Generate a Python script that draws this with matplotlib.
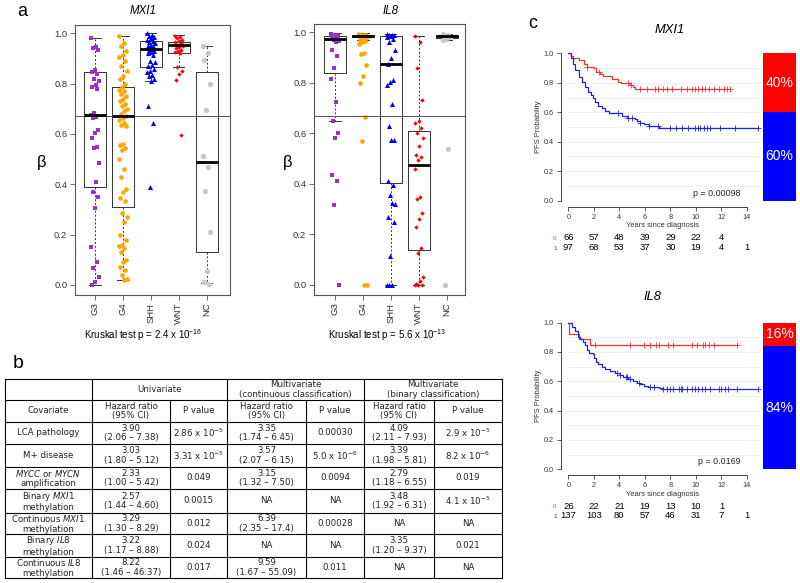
import numpy as np
import matplotlib
matplotlib.use("Agg")
import matplotlib.pyplot as plt
from matplotlib.transforms import blended_transform_factory

plt.rcParams['font.family'] = ['Liberation Sans', 'DejaVu Sans']
plt.rcParams['mathtext.fontset'] = 'custom'
plt.rcParams['mathtext.rm'] = 'Liberation Sans'
plt.rcParams['mathtext.it'] = 'Liberation Sans:italic'
plt.rcParams['mathtext.bf'] = 'Liberation Sans:bold'

# ---------------- data: panel a (beta values per group) ----------------
groups = ["G3", "G4", "SHH", "WNT", "NC"]

mxi1_g3 = [0.98, 0.947, 0.94, 0.935, 0.854, 0.848, 0.84, 0.82, 0.81, 0.795, 0.785, 0.78,
           0.682, 0.675, 0.669, 0.662, 0.616, 0.603, 0.583, 0.55, 0.543, 0.483, 0.41, 0.37,
           0.35, 0.305, 0.152, 0.093, 0.066, 0.033, 0.013, 0.0]
mxi1_g4 = [0.99, 0.96, 0.95, 0.93, 0.915, 0.905, 0.89, 0.87, 0.85, 0.83, 0.82, 0.80, 0.785,
           0.775, 0.77, 0.76, 0.75, 0.74, 0.73, 0.72, 0.71, 0.70, 0.69, 0.68, 0.672, 0.665,
           0.655, 0.645, 0.635, 0.63, 0.56, 0.555, 0.545, 0.535, 0.50, 0.46, 0.43, 0.38,
           0.37, 0.345, 0.335, 0.285, 0.27, 0.25, 0.20, 0.18, 0.16, 0.155, 0.145, 0.13,
           0.10, 0.09, 0.07, 0.06, 0.04, 0.025, 0.02]
mxi1_shh = [1.0, 0.995, 0.99, 0.985, 0.98, 0.975, 0.97, 0.965, 0.96, 0.955, 0.95, 0.948,
            0.945, 0.94, 0.938, 0.935, 0.93, 0.925, 0.92, 0.915, 0.89, 0.885, 0.875, 0.87,
            0.86, 0.85, 0.845, 0.835, 0.83, 0.82, 0.81, 0.71, 0.645, 0.39]
mxi1_wnt = [0.99, 0.985, 0.98, 0.975, 0.97, 0.965, 0.96, 0.955, 0.95, 0.945, 0.94, 0.935,
            0.93, 0.925, 0.92, 0.865, 0.85, 0.837, 0.815, 0.595]
mxi1_nc = [0.95, 0.922, 0.895, 0.797, 0.695, 0.513, 0.47, 0.375, 0.21, 0.055, 0.01, 0.005]

il8_g3 = [0.995, 0.99, 0.99, 0.985, 0.98, 0.98, 0.975, 0.97, 0.965, 0.96, 0.93, 0.908,
          0.858, 0.815, 0.726, 0.649, 0.60, 0.58, 0.435, 0.41, 0.317, 0.0]
il8_g4 = [0.995, 0.99, 0.99, 0.988, 0.985, 0.985, 0.982, 0.98, 0.98, 0.975, 0.97, 0.965,
          0.96, 0.955, 0.92, 0.913, 0.871, 0.827, 0.80, 0.666, 0.57, 0.0, 0.0]
il8_shh = [0.995, 0.99, 0.99, 0.988, 0.985, 0.98, 0.975, 0.96, 0.93, 0.90, 0.875, 0.81,
           0.805, 0.79, 0.715, 0.63, 0.575, 0.575, 0.41, 0.395, 0.355, 0.32, 0.325, 0.27,
           0.25, 0.115, 0.0, 0.0, 0.0]
il8_wnt = [0.985, 0.96, 0.86, 0.732, 0.65, 0.64, 0.62, 0.60, 0.58, 0.55, 0.515, 0.505,
           0.495, 0.46, 0.35, 0.34, 0.285, 0.26, 0.23, 0.147, 0.125, 0.03, 0.015, 0.005,
           0.0, 0.0, 0.0]
il8_nc = [0.995, 0.99, 0.985, 0.98, 0.975, 0.97, 0.54, 0.0]

# box statistics (whisker low, q1, median, q3, whisker high)
mxi1_lo = [0.0, 0.02, 0.81, 0.865, 0.007]
mxi1_q1 = [0.391, 0.309, 0.865, 0.92, 0.13]
mxi1_med = [0.675, 0.672, 0.936, 0.954, 0.49]
mxi1_q3 = [0.845, 0.788, 0.971, 0.967, 0.845]
mxi1_hi = [0.98, 0.99, 1.0, 0.993, 0.95]

il8_lo = [0.649, 0.97, 0.0, 0.0, 0.97]
il8_q1 = [0.838, 0.98, 0.402, 0.139, 0.978]
il8_med = [0.974, 0.985, 0.873, 0.475, 0.985]
il8_q3 = [0.987, 0.99, 0.987, 0.611, 0.99]
il8_hi = [0.996, 0.998, 0.995, 0.985, 0.995]

beta_cut = 0.67
kruskal_mxi1 = r"Kruskal test p = 2.4 x 10$^{-16}$"
kruskal_il8 = r"Kruskal test p = 5.6 x 10$^{-13}$"

# ---------------- data: panel b (Cox table) ----------------
covariates = ["LCA pathology", "M+ disease",
              "$\\mathit{MYCC}$ or $\\mathit{MYCN}$\namplification",
              "Binary $\\mathit{MXI1}$\nmethylation",
              "Continuous $\\mathit{MXI1}$\nmethylation",
              "Binary $\\mathit{IL8}$\nmethylation",
              "Continuous $\\mathit{IL8}$\nmethylation"]
uni_hr = ["3.90\n(2.06 \u2013 7.38)", "3.03\n(1.80 \u2013 5.12)", "2.33\n(1.00 \u2013 5.42)",
          "2.57\n(1.44 \u2013 4.60)", "3.29\n(1.30 \u2013 8.29)", "3.22\n(1.17 \u2013 8.88)",
          "8.22\n(1.46 \u2013 46.37)"]
uni_p = ["2.86 x 10$^{-5}$", "3.31 x 10$^{-5}$", "0.049", "0.0015", "0.012", "0.024", "0.017"]
cont_hr = ["3.35\n(1.74 \u2013 6.45)", "3.57\n(2.07 \u2013 6.15)", "3.15\n(1.32 \u2013 7.50)", "NA",
           "6.39\n(2.35 \u2013 17.4)", "NA", "9.59\n(1.67 \u2013 55.09)"]
cont_p = ["0.00030", "5.0 x 10$^{-6}$", "0.0094", "NA", "0.00028", "NA", "0.011"]
bin_hr = ["4.09\n(2.11 \u2013 7.93)", "3.39\n(1.98 \u2013 5.81)", "2.79\n(1.18 \u2013 6.55)",
          "3.48\n(1.92 \u2013 6.31)", "NA", "3.35\n(1.20 \u2013 9.37)", "NA"]
bin_p = ["2.9 x 10$^{-5}$", "8.2 x 10$^{-6}$", "0.019", "4.1 x 10$^{-5}$", "NA", "0.021", "NA"]
head_top = ["Univariate", "Multivariate\n(continuous classification)",
            "Multivariate\n(binary classification)"]
head_sub = ["Covariate", "Hazard ratio\n(95% CI)", "P value", "Hazard ratio\n(95% CI)",
            "P value", "Hazard ratio\n(95% CI)", "P value"]

# ---------------- data: panel c (Kaplan-Meier) ----------------
mxi1_t0 = [0, 0.2, 0.4, 0.8, 1.2, 1.45, 2.0, 2.2, 2.5, 2.75, 3.4, 3.9, 4.1, 4.85, 5.1, 5.25]
mxi1_s0 = [1.0, 0.985, 0.97, 0.955, 0.93, 0.91, 0.90, 0.875, 0.86, 0.846, 0.826, 0.808,
           0.796, 0.785, 0.77, 0.758]
mxi1_end0 = 12.7
mxi1_cens0 = [1.45, 2.4, 4.7, 4.9, 5.6, 6.15, 6.8, 7.05, 7.4, 7.7, 8.1, 8.8, 9.3, 9.7, 9.95,
              10.2, 10.5, 10.7, 11.0, 11.4, 11.8, 12.2, 12.45, 12.7]
mxi1_t1 = [0, 0.2, 0.35, 0.55, 0.8, 1.05, 1.3, 1.55, 1.8, 1.95, 2.1, 2.3, 2.6, 2.9, 3.15,
           4.05, 4.2, 4.6, 5.2, 5.4, 5.6, 5.9, 6.3, 7.1]
mxi1_s1 = [1.0, 0.966, 0.93, 0.887, 0.842, 0.808, 0.77, 0.74, 0.717, 0.695, 0.672, 0.643,
           0.627, 0.61, 0.597, 0.593, 0.575, 0.563, 0.557, 0.543, 0.529, 0.518, 0.509, 0.495]
mxi1_end1 = 14.85
mxi1_cens1 = [3.9, 4.7, 5.0, 5.6, 6.3, 7.0, 8.0, 8.4, 8.9, 9.4, 9.95, 10.2, 10.35, 10.6,
              10.85, 11.1, 11.9, 13.1, 14.85]

il8_t0 = [0, 0.08, 0.86, 1.7]
il8_s0 = [1.0, 0.925, 0.89, 0.85]
il8_end0 = 13.2
il8_cens0 = [2.1, 4.8, 5.9, 6.4, 6.9, 7.1, 7.8, 8.2, 9.7, 10.1, 10.55, 10.7, 11.0, 11.4, 13.2]
il8_t1 = [0, 0.26, 0.52, 0.79, 0.92, 1.13, 1.3, 1.5, 1.65, 1.9, 2.04, 2.17, 2.36, 2.6, 2.88,
          3.27, 3.66, 4.06, 4.3, 4.7, 5.1, 5.37, 5.63, 5.9, 6.28, 7.07, 7.33]
il8_s1 = [1.0, 0.973, 0.94, 0.905, 0.886, 0.87, 0.848, 0.814, 0.795, 0.784, 0.761, 0.734,
          0.718, 0.70, 0.684, 0.67, 0.655, 0.643, 0.627, 0.616, 0.605, 0.59, 0.58, 0.568,
          0.564, 0.557, 0.55]
il8_end1 = 14.85
il8_cens1 = [3.85, 4.06, 4.5, 4.6, 4.8, 5.5, 6.4, 6.7, 7.45, 7.7, 8.0, 8.2, 8.65, 8.8, 8.9,
             9.3, 9.7, 9.95, 10.2, 10.5, 10.7, 11.1, 11.8, 12.0, 12.3, 12.55, 13.2, 14.85]

risk_times = [0, 2, 4, 6, 8, 10, 12, 14]
mxi1_risk0 = [66, 57, 48, 39, 29, 22, 4]
mxi1_risk1 = [97, 68, 53, 37, 30, 19, 4, 1]
il8_risk0 = [26, 22, 21, 19, 13, 10, 1]
il8_risk1 = [137, 103, 80, 57, 46, 31, 7, 1]
mxi1_pval = "p = 0.00098"
il8_pval = "p = 0.0169"
mxi1_frac = [0.40, 0.60]   # red (top), blue (bottom)
il8_frac = [0.16, 0.84]

# ---------------- layout ----------------
W, H = 800, 583
fig = plt.figure(figsize=(W / 100, H / 100), dpi=100)


def px_axes(x0, y0, x1, y1):
    return fig.add_axes([x0 / W, 1 - y1 / H, (x1 - x0) / W, (y1 - y0) / H])


grp_col = ['#9932CC', '#FFA500', '#0000EE', '#FF0000', '#C8C8C8']
grp_mark = ['s', 'o', '^', 'D', 'o']
grp_size = [9, 11, 13, 5, 15]


def box_panel(ax, data, lo, q1, med, q3, hi, xlim):
    stats = [dict(whislo=lo[i], q1=q1[i], med=med[i], q3=q3[i], whishi=hi[i], fliers=[])
             for i in range(len(data))]
    ax.bxp(stats, positions=range(1, 6), widths=0.8, showfliers=False,
           boxprops=dict(color='#333333', lw=0.7),
           whiskerprops=dict(color='#333333', lw=0.7, ls=(0, (2, 2))),
           capprops=dict(color='#333333', lw=0.7),
           medianprops=dict(color='black', lw=2, zorder=5))
    for i, vals in enumerate(data):
        n = len(vals)
        jit = ((np.arange(n) * 0.618) % 1 - 0.5) * 0.3
        ax.scatter(i + 1 + jit, vals, marker=grp_mark[i], s=grp_size[i], color=grp_col[i],
                   lw=0, zorder=3)
    ax.axhline(beta_cut, color='#555555', lw=0.7, zorder=4)
    ax.set_xlim(*xlim)
    ax.set_ylim(-0.04, 1.033)
    ax.set_xticks(range(1, 6))
    ax.set_xticklabels(groups, rotation=90, fontsize=6.8, color='#333333')
    ax.set_yticks(np.arange(0, 1.01, 0.2))
    ax.set_yticklabels(["%.1f" % v for v in np.arange(0, 1.01, 0.2)], fontsize=6.8,
                       color='#333333')
    ax.tick_params(length=3.5, width=0.6, pad=2, color='#555555')
    for sp in ax.spines.values():
        sp.set_color('#555555')
        sp.set_linewidth(0.8)


ax_m = px_axes(75, 25, 230, 295)
box_panel(ax_m, [mxi1_g3, mxi1_g4, mxi1_shh, mxi1_wnt, mxi1_nc],
          mxi1_lo, mxi1_q1, mxi1_med, mxi1_q3, mxi1_hi, (0.284, 5.834))
ax_i = px_axes(314, 24, 465, 295)
box_panel(ax_i, [il8_g3, il8_g4, il8_shh, il8_wnt, il8_nc],
          il8_lo, il8_q1, il8_med, il8_q3, il8_hi, (0.248, 5.655))


def km_panel(ax, curves, pval):
    for yy in np.arange(0.1, 1.0, 0.1):
        ax.plot([0, 15], [yy, yy], color='#EEEEEE', lw=0.6, zorder=1)
    for t, s, end, cens, col in curves:
        tt = list(t) + [end]
        ss = list(s) + [s[-1]]
        ax.step(tt, ss, where='post', color=col, lw=0.9, zorder=3)
        idx = np.searchsorted(t, cens, side='right') - 1
        ax.plot(cens, np.array(s)[idx], '+', color=col, ms=4, mew=0.6, zorder=3)
    ax.set_xlim(-0.59, 15.39)
    ax.set_ylim(-0.04, 1.04)
    ax.patch.set_alpha(0)
    for sp in ['top', 'right']:
        ax.spines[sp].set_visible(False)
    ax.spines['left'].set_bounds(0, 1)
    ax.spines['bottom'].set_bounds(0, 14)
    for sp in ['left', 'bottom']:
        ax.spines[sp].set_color('#444444')
        ax.spines[sp].set_linewidth(0.7)
    ax.set_xticks(range(0, 15, 2))
    ax.set_yticks(np.arange(0, 1.01, 0.2))
    ax.set_yticklabels(["%.1f" % v for v in np.arange(0, 1.01, 0.2)])
    ax.tick_params(labelsize=5.2, length=3, width=0.6, pad=2, color='#444444',
                   labelcolor='#333333')
    ax.set_xlabel("Years since diagnosis", fontsize=5.4, color='#333333', labelpad=1)
    ax.text(13.5, 0.05, pval, ha='right', va='center', fontsize=6.4, color='#222222')


red_km, blue_km = '#EE3333', '#2222DD'

ax_k1 = px_axes(560.8, 47.4, 764.7, 206.6)
km_panel(ax_k1, [(mxi1_t0, mxi1_s0, mxi1_end0, mxi1_cens0, red_km),
                 (mxi1_t1, mxi1_s1, mxi1_end1, mxi1_cens1, blue_km)], mxi1_pval)
ax_k2 = px_axes(560.8, 316.8, 764.7, 475.2)
km_panel(ax_k2, [(il8_t0, il8_s0, il8_end0, il8_cens0, red_km),
                 (il8_t1, il8_s1, il8_end1, il8_cens1, blue_km)], il8_pval)


def frac_bar(ax, frac):
    ax.bar(0, frac[1], width=1, color='#0000FF', lw=0)
    ax.bar(0, frac[0], bottom=frac[1], width=1, color='#FF0000', lw=0)
    ax.text(0, frac[1] + frac[0] / 2, "%d%%" % round(frac[0] * 100), ha='center',
            va='center', color='white', fontsize=10)
    ax.text(0, frac[1] / 2, "%d%%" % round(frac[1] * 100), ha='center', va='center',
            color='white', fontsize=10)
    ax.set_xlim(-0.5, 0.5)
    ax.set_ylim(0, 1)
    ax.axis('off')


ax_b1 = px_axes(763.3, 53.3, 796, 200.7)
frac_bar(ax_b1, mxi1_frac)
ax_b2 = px_axes(763.3, 322.7, 796, 469.3)
frac_bar(ax_b2, il8_frac)

# ---------------- overlay in pixel coordinates: labels and table ----------------
ov = fig.add_axes([0, 0, 1, 1])
ov.set_xlim(0, W)
ov.set_ylim(H, 0)
ov.axis('off')

ov.text(22, 12, "a", fontsize=13, ha='center', va='center')
ov.text(18, 363, "b", fontsize=14, ha='center', va='center')
ov.text(533, 23, "c", fontsize=13, ha='center', va='center')

ov.text(143, 11, "MXI1", fontsize=8.3, style='italic', ha='center', va='center')
ov.text(390.7, 11, "IL8", fontsize=8.3, style='italic', ha='center', va='center')
ov.text(42, 163, "\u03b2", fontsize=12, ha='center', va='center')
ov.text(288, 163, "\u03b2", fontsize=12, ha='center', va='center')
ov.text(143, 335, kruskal_mxi1, fontsize=7, ha='center', va='center')
ov.text(387, 335, kruskal_il8, fontsize=7, ha='center', va='center')

ov.text(670, 30, "MXI1", fontsize=9.3, style='italic', ha='center', va='center')
ov.text(652.7, 297, "IL8", fontsize=9.3, style='italic', ha='center', va='center')
ov.text(538, 127, "PFS Probability", fontsize=5.4, rotation=90, ha='center', va='center',
        color='#333333')
ov.text(538, 396, "PFS Probability", fontsize=5.4, rotation=90, ha='center', va='center',
        color='#333333')

# risk tables under the KM curves
for ax, r0, r1, y0, y1 in [(ax_k1, mxi1_risk0, mxi1_risk1, 238, 248),
                           (ax_k2, il8_risk0, il8_risk1, 506.7, 516)]:
    tr = blended_transform_factory(ax.transData, ov.transData)
    ov.text(-1.05, y0, "0", transform=tr, fontsize=4.5, color=red_km, ha='center', va='center')
    ov.text(-1.05, y1, "1", transform=tr, fontsize=4.5, color=blue_km, ha='center', va='center')
    for t, n in zip(risk_times, r0):
        ov.text(t, y0, str(n), transform=tr, fontsize=6.8, ha='center', va='center')
    for t, n in zip(risk_times, r1):
        ov.text(t, y1, str(n), transform=tr, fontsize=6.8, ha='center', va='center')

# table
col_x = [5, 92, 170, 227, 306, 364, 434, 502]
row_y = [379, 400, 421.7, 444, 466.7, 489, 512.7, 534, 556.7, 578]
lw_t = 0.8
for y in row_y:
    ov.plot([col_x[0], col_x[-1]], [y, y], color='black', lw=lw_t)
for i, x in enumerate(col_x):
    top = row_y[0] if i in (0, 1, 3, 5, 7) else row_y[1]
    ov.plot([x, x], [top, row_y[-1]], color='black', lw=lw_t)

tkw = dict(fontsize=6.2, ha='center', va='center', linespacing=1.05, color='#222222',
           family='DejaVu Sans', math_fontfamily='dejavusans')
for k, txt in enumerate(head_top):
    xc = (col_x[1 + 2 * k] + col_x[3 + 2 * k]) / 2
    ov.text(xc, (row_y[0] + row_y[1]) / 2, txt, **tkw)
for k, txt in enumerate(head_sub):
    xc = (col_x[k] + col_x[k + 1]) / 2
    ov.text(xc, (row_y[1] + row_y[2]) / 2, txt, **tkw)
columns = [covariates, uni_hr, uni_p, cont_hr, cont_p, bin_hr, bin_p]
for c, col in enumerate(columns):
    xc = (col_x[c] + col_x[c + 1]) / 2
    for r, txt in enumerate(col):
        yc = (row_y[r + 2] + row_y[r + 3]) / 2
        ov.text(xc, yc, txt, **tkw)

fig.savefig("out.png", dpi=100)
